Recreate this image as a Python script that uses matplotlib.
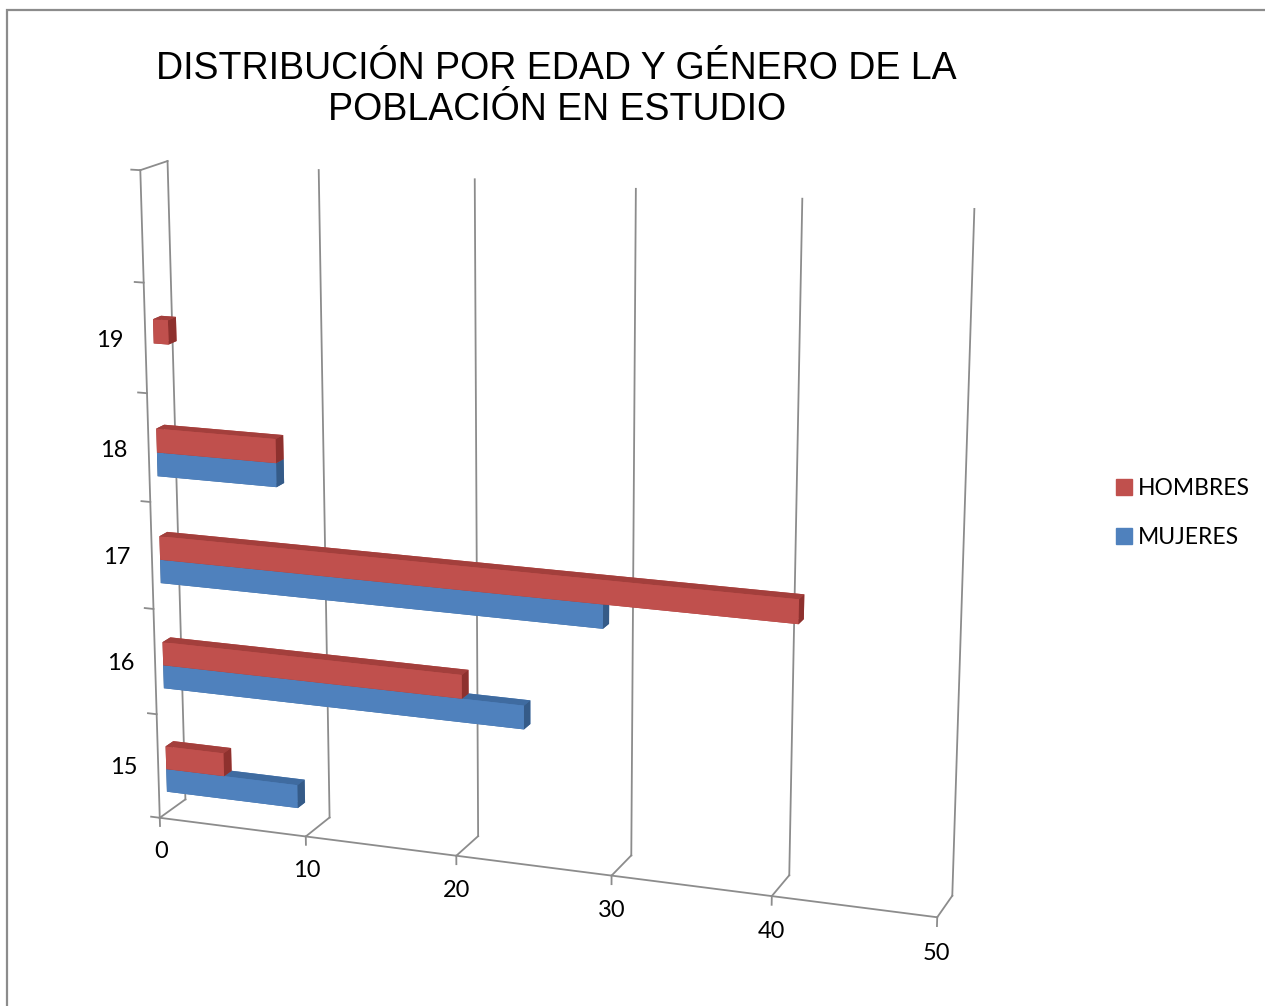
import numpy as np
import matplotlib.pyplot as plt
from matplotlib.patches import Patch, Rectangle

plt.rcParams['font.family'] = ['Lato', 'DejaVu Sans']

# edades (la ultima franja queda vacia)
edades = ['15', '16', '17', '18', '19', '']
hombres = [4, 20, 41, 8, 1]
mujeres = [9, 24, 29, 8, 0]
ticks_x = [0, 10, 20, 30, 40, 50]
titulo = 'DISTRIBUCIÓN POR EDAD Y GÉNERO DE LA\nPOBLACIÓN EN ESTUDIO'

# colores: frente, arriba, lado
rojo = ['#C0504D', '#A33F3C', '#8E312E']
azul = ['#4F81BD', '#3F6BA0', '#355B88']
gris = '#8C8C8C'

fig = plt.figure(figsize=(12.65, 10.06), dpi=100)
ax = fig.add_axes([-0.02, 0.0, 0.88, 0.92], projection='3d', proj_type='persp',
                  focal_length=0.7, computed_zorder=False)
ax.view_init(elev=15, azim=-70, roll=0)
ax.set_box_aspect((810, 60, 664), zoom=1.143)
ax.set_axis_off()
# los textos propios de los ejes 3D no se usan
for eje in (ax.xaxis, ax.yaxis, ax.zaxis):
    eje.label.set_visible(False)
    eje.offsetText.set_visible(False)
for t in (ax.title, ax._left_title, ax._right_title):
    t.set_visible(False)

fondo = 1.0
ztop = len(edades)
xmax = ticks_x[-1]


def barras(valores, z0, dz, cols):
    pos = [i for i, v in enumerate(valores) if v > 0]
    n = len(pos)
    x = np.zeros(n)
    y = np.full(n, 0.3 * fondo)
    z = np.array(pos) + z0
    dx = np.array([valores[i] for i in pos], dtype=float)
    # orden de caras: -z, +z, -y, +y, -x, +x
    caras = [cols[1], cols[1], cols[0], cols[0], cols[2], cols[2]] * n
    ax.bar3d(x, y, z, dx, 0.3 * fondo, dz, color=caras, shade=False,
             linewidth=0, zorder=2)


# rejilla del fondo y suelo
for v in ticks_x:
    ax.plot([v, v], [fondo, fondo], [0, ztop], color=gris, lw=1.3, zorder=1)
    ax.plot([v, v], [0, fondo], [0, 0], color=gris, lw=1.3, zorder=1)
    ax.plot([v, v], [0, 0], [0, -0.08], color=gris, lw=1.3, zorder=1)
    ax.text(v, 0, -0.33, str(v), ha='center', va='center', fontsize=17)

ax.plot([0, xmax], [0, 0], [0, 0], color=gris, lw=1.3, zorder=1)
ax.plot([0, 0], [0, 0], [0, ztop], color=gris, lw=1.3, zorder=1)
ax.plot([0, 0], [0, fondo], [ztop, ztop], color=gris, lw=1.3, zorder=1)
for k in range(len(edades) + 1):
    ax.plot([0, -0.6], [0, 0], [k, k], color=gris, lw=1.3, zorder=1)
for i, e in enumerate(edades):
    ax.text(-2.4, 0, i + 0.45, e, ha='center', va='center', fontsize=17)

barras(mujeres, 0.2, 0.22, azul)
barras(hombres, 0.42, 0.22, rojo)

ax.set_xlim(0, xmax)
ax.set_ylim(0, fondo)
ax.set_zlim(0, ztop)

fig.text(0.44, 0.911, titulo, ha='center', va='center', fontsize=27,
         family='Liberation Sans')

fig.legend(handles=[Patch(color=rojo[0], label='HOMBRES'),
                    Patch(color=azul[0], label='MUJERES')],
           loc='center left', bbox_to_anchor=(0.866, 0.49), frameon=False,
           handlelength=0.68, handleheight=0.68, handletextpad=0.25,
           fontsize=16.5, labelspacing=1.2)

fig.patches.append(Rectangle((0.0058, -0.1), 1.2, 1.09, transform=fig.transFigure,
                             fill=False, edgecolor=gris, lw=1.6))

fig.savefig('out.png', dpi=100)
